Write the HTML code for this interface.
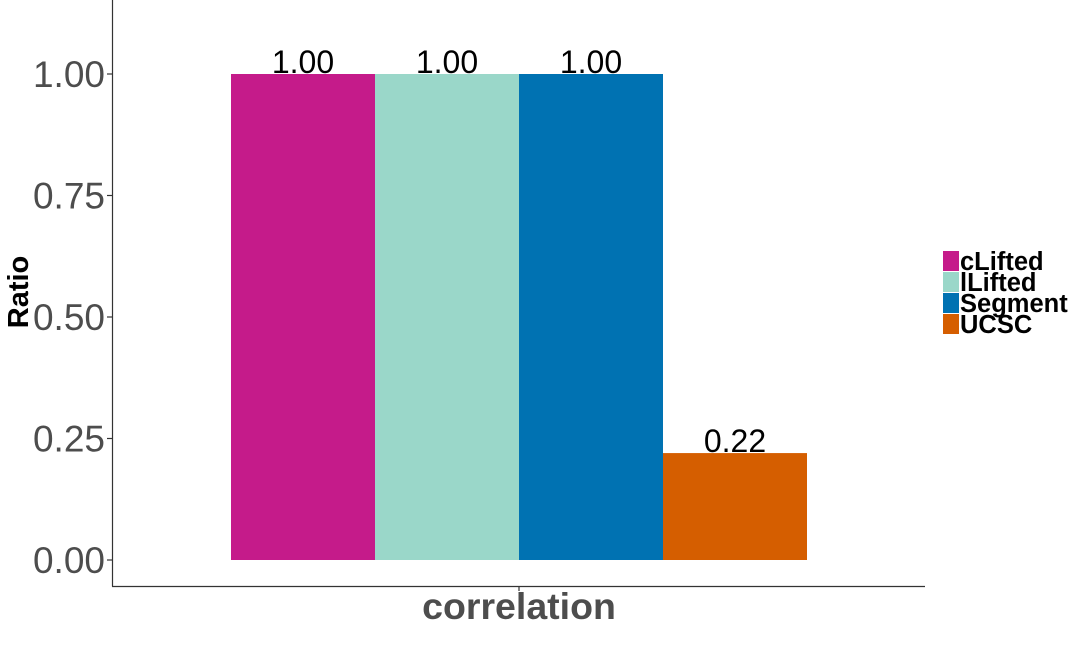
<!DOCTYPE html>
<html><head><meta charset="utf-8"><style>
html,body{margin:0;padding:0;background:#fff;}
svg{display:block;font-family:"Liberation Sans",Arial,sans-serif;}
</style></head><body>
<svg id="chart" width="1081" height="656"></svg>
<script>
const categories = ["cLifted","lLifted","Segment","UCSC"];
const values = [1.00, 1.00, 1.00, 0.22];
const valueLabels = ["1.00","1.00","1.00","0.22"];
const colors = ["#C51B8A","#9AD7C9","#0072B2","#D55E00"];
const yTicks = [0, 0.25, 0.5, 0.75, 1.0];
const yTickLabels = ["0.00","0.25","0.50","0.75","1.00"];

const NS="http://www.w3.org/2000/svg";
const svg=document.getElementById('chart');
function el(tag,attrs,parent){const e=document.createElementNS(NS,tag);for(const k in attrs)e.setAttribute(k,attrs[k]);(parent||svg).appendChild(e);return e;}
const y0=560, y1=74;
function yScale(v){return y0-(y0-y1)*v;}
const barStart=231, barW=144;
function xScale(i){return barStart+i*barW;}

const ax=el('line',{x1:112.5,y1:0,x2:112.5,y2:586.5,stroke:'#333','stroke-width':1.2});


const bx=el('line',{x1:112,y1:586.5,x2:925,y2:586.5,stroke:'#333','stroke-width':1.2});


const xt=el('line',{x1:519,y1:586,x2:519,y2:591,stroke:'#333','stroke-width':1.2});



yTicks.forEach((v,i)=>{
  const y=yScale(v);
  const t=el('line',{x1:107,y1:y,x2:112,y2:y,stroke:'#333','stroke-width':1.2});
  
  
  const l=el('text',{x:105,y:y+13,'text-anchor':'end','font-size':37,fill:'#4d4d4d'});
  l.textContent=yTickLabels[i];
  
  
});

values.forEach((v,i)=>{
  const x=xScale(i), y=yScale(v);
  const r=el('rect',{x:x,y:y,width:barW,height:y0-y,fill:colors[i]});
  
  
  const t=el('text',{x:x+barW/2,y:y-1,'text-anchor':'middle','font-size':32,fill:'#000'});
  t.textContent=valueLabels[i];
  
  
});

const xtitle=el('text',{x:519,y:619,'text-anchor':'middle','font-size':37.5,'font-weight':'bold',fill:'#4d4d4d'});
xtitle.textContent='correlation';


const ytitle=el('text',{x:0,y:0,'text-anchor':'middle','font-size':29,'font-weight':'bold',fill:'#000',transform:'translate(28,292) rotate(-90)'});
ytitle.textContent='Ratio';



categories.forEach((c,i)=>{
  const y=251+i*21;
  const g=el('g',{});
  
  
  el('rect',{x:943,y:y,width:16,height:20,fill:colors[i]},g);
  const t=el('text',{x:960,y:y+19,'font-size':25.5,'font-weight':'bold',fill:'#000'},g);
  t.textContent=c;
});
</script>
</body></html>
